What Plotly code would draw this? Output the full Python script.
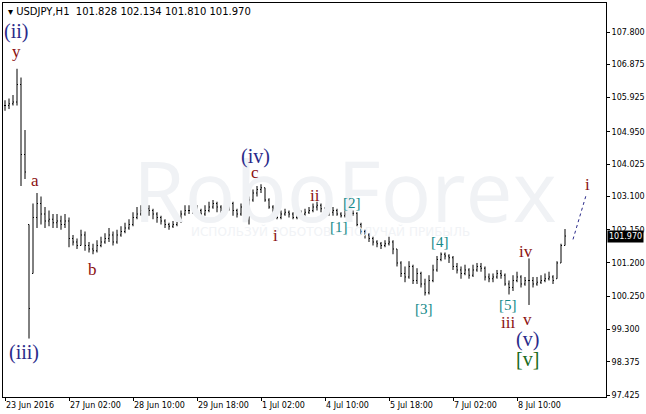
import plotly.graph_objects as go

tick_labels = ["23 Jun 2016", "27 Jun 02:00", "28 Jun 10:00", "29 Jun 18:00", "1 Jul 02:00",
               "4 Jul 10:00", "5 Jul 18:00", "7 Jul 02:00", "8 Jul 10:00"]
price_ticks = [107.800, 106.875, 105.925, 104.950, 104.025, 103.100, 102.150, 101.200,
               100.250, 99.300, 98.375, 97.425]

closes = [105.70,105.75,105.80,106.30,104.30,103.80,99.90,102.50,102.90,102.60,
          102.40,102.45,102.35,102.40,102.30,102.40,101.90,101.80,101.70,102.00,
          101.70,101.60,101.55,101.70,101.80,101.90,102.00,101.80,102.00,102.10,
          102.20,102.30,102.50,102.60,102.70,102.75,102.70,102.60,102.50,102.40,
          102.30,102.25,102.30,102.40,102.60,102.70,102.70,102.75,102.70,102.60,
          102.70,102.80,102.90,102.80,102.70,102.80,102.90,102.70,102.60,102.80,
          102.70,103.00,103.20,103.30,103.35,103.00,102.80,102.70,102.50,102.60,
          102.65,102.60,102.50,102.55,102.60,102.65,102.70,102.80,102.85,102.75,
          102.70,102.65,102.70,102.60,102.55,102.60,102.62,102.62,102.30,102.10,
          102.00,101.90,101.80,101.75,101.70,101.75,101.80,101.60,101.20,100.90,
          100.80,101.10,100.70,100.90,100.60,100.35,100.70,101.00,101.30,101.45,
          101.40,101.35,101.10,101.00,100.90,101.00,100.85,101.00,101.10,101.05,
          100.80,100.75,100.80,100.90,100.85,100.60,100.50,100.70,100.80,100.60,
          100.70,100.70,100.60,100.65,100.70,100.75,100.80,100.70,101.20,101.70,101.97]
highs = [105.85,105.90,106.00,106.75,106.50,105.00,102.30,102.90,103.20,103.10,
         102.80,102.70,102.60,102.60,102.55,102.60,102.50,102.00,101.90,102.15,
         102.10,101.80,101.75,101.85,101.95,102.05,102.20,102.10,102.15,102.25,
         102.35,102.45,102.65,102.80,102.85,102.85,102.85,102.75,102.65,102.55,
         102.45,102.35,102.40,102.50,102.70,102.85,102.85,102.85,102.85,102.75,
         102.85,102.95,103.00,102.95,102.85,102.95,103.00,102.95,102.75,102.90,
         102.85,103.10,103.30,103.40,103.45,103.35,103.05,102.85,102.75,102.70,
         102.75,102.70,102.65,102.65,102.70,102.75,102.80,102.90,102.95,102.90,
         102.80,102.75,102.80,102.75,102.65,102.70,102.70,102.70,102.65,102.35,
         102.15,102.05,101.95,101.85,101.80,101.85,101.95,101.85,101.60,101.25,
         101.10,101.25,101.15,101.05,100.95,100.75,100.85,101.15,101.40,101.50,
         101.50,101.45,101.40,101.20,101.10,101.15,101.05,101.15,101.20,101.20,
         101.10,100.90,100.90,101.00,101.00,100.90,100.70,100.85,100.95,100.85,
         100.80,101.33,100.80,100.80,100.85,100.90,100.95,100.85,101.25,101.75,102.17]
lows = [105.55,105.60,105.70,105.70,103.40,103.60,99.04,100.90,102.20,102.30,
        102.20,102.25,102.20,102.20,102.15,102.20,101.65,101.70,101.60,101.70,
        101.55,101.50,101.45,101.50,101.65,101.75,101.80,101.70,101.75,101.95,
        102.05,102.15,102.25,102.45,102.55,102.60,102.55,102.45,102.35,102.30,
        102.20,102.15,102.20,102.25,102.35,102.55,102.60,102.60,102.55,102.50,
        102.55,102.65,102.75,102.65,102.60,102.65,102.70,102.55,102.50,102.55,
        102.60,102.30,102.95,103.10,103.20,102.95,102.75,102.60,102.45,102.45,
        102.55,102.50,102.45,102.45,102.50,102.55,102.60,102.65,102.70,102.65,
        102.60,102.55,102.55,102.55,102.50,102.50,102.55,102.55,102.25,102.00,
        101.90,101.80,101.70,101.65,101.60,101.65,101.70,101.45,101.10,100.80,
        100.65,100.75,100.60,100.60,100.50,100.27,100.30,100.65,100.95,101.25,
        101.30,101.20,101.00,100.90,100.75,100.85,100.75,100.80,100.95,100.95,
        100.70,100.65,100.65,100.75,100.75,100.55,100.30,100.40,100.65,100.50,
        100.55,100.00,100.50,100.55,100.60,100.65,100.70,100.60,100.75,101.20,101.70]
opens = [closes[0]] + closes[:-1]
opens = [min(max(o, l), h) for o, l, h in zip(opens, lows, highs)]
xs = list(range(len(closes)))

Y_TOP, Y_BOT = 108.63, 97.37
PX_PER_UNIT = 35.08
def px(x, y):
    return (x - 5) / 4.0, Y_TOP - (y - 3) / PX_PER_UNIT

fig = go.Figure()
fig.add_trace(go.Ohlc(x=xs, open=opens, high=highs, low=lows, close=closes,
                      increasing=dict(line=dict(color="black", width=1)),
                      decreasing=dict(line=dict(color="black", width=1)),
                      tickwidth=0.25, hoverinfo="skip"))

# watermark
wx, wy = px(345, 190)
fig.add_annotation(x=wx, y=wy, text="RoboForex", showarrow=False,
                   font=dict(family="Open Sans", size=84, color="#f0f2f5"))
wx2, wy2 = px(330, 232)
fig.add_annotation(x=wx2, y=wy2, text="ИСПОЛЬЗУЙ РОБОТОВ – ПОЛУЧАЙ ПРИБЫЛЬ", showarrow=False,
                   font=dict(family="DejaVu Sans", size=12, color="#f1f3f6"))

BLUE, RED, TEAL, GREEN = "#2a2a8a", "#8b1010", "#168a8a", "#1b6b1b"
labels = [("(ii)", 16, 32, BLUE), ("y", 16, 52, RED), ("(iii)", 24, 353, BLUE),
          ("a", 35, 181, RED), ("b", 92, 270, RED), ("(iv)", 255, 157, BLUE),
          ("c", 255, 173, RED), ("i", 275, 236, RED), ("ii", 315, 196, RED),
          ("[1]", 339, 228, TEAL), ("[2]", 352, 204, TEAL), ("[3]", 424, 310, TEAL),
          ("[4]", 440, 243, TEAL), ("[5]", 508, 306, TEAL), ("iii", 508, 323, RED),
          ("iv", 526, 252, RED), ("v", 527, 320, RED), ("(v)", 527, 340, BLUE),
          ("[v]", 527, 360, GREEN), ("i", 587, 185, RED)]
for t, x, y, c in labels:
    ax, ay = px(x, y)
    big = t.startswith("(") or t == "[v]"
    fig.add_annotation(x=ax, y=ay, text=t, showarrow=False,
                       font=dict(family="Liberation Serif", size=20 if big else (15 if t.startswith("[") else 17), color=c))

x0, y0 = px(573, 240)
x1, y1 = px(586, 196)
fig.add_shape(type="line", x0=x0, y0=y0, x1=x1, y1=y1, line=dict(color="#2a2a8a", width=1, dash="dot"))

# current price label
fig.add_annotation(xref="paper", x=1.0, y=101.97, xanchor="left", text="101.970", showarrow=False,
                   bgcolor="black", font=dict(family="DejaVu Sans", size=8, color="white"),
                   borderpad=1, xshift=1)

fig.add_annotation(xref="paper", yref="paper", x=0.0, y=1.0, xanchor="left", yanchor="top",
                   text="▾ USDJPY,H1  101.828 102.134 101.810 101.970", showarrow=False,
                   font=dict(family="DejaVu Sans", size=10, color="black"), xshift=3, yshift=-1)

fig.update_layout(
    width=646, height=414, margin=dict(l=3, r=40, t=3, b=17, autoexpand=False),
    paper_bgcolor="white", plot_bgcolor="white", showlegend=False,
    xaxis=dict(range=[-0.5, 150.25], rangeslider=dict(visible=False), showgrid=False,
               zeroline=False, showline=True, linecolor="black", mirror=True,
               tickvals=[16 * i for i in range(len(tick_labels))], ticktext=tick_labels,
               ticks="outside", ticklen=3, tickcolor="black", ticklabelposition="outside right",
               tickangle=0, automargin=False,
               tickfont=dict(family="DejaVu Sans", size=8, color="black")),
    yaxis=dict(range=[Y_BOT, Y_TOP], side="right", showgrid=False, zeroline=False,
               showline=True, linecolor="black", mirror=True, automargin=False,
               tickvals=price_ticks, ticktext=[f"{v:.3f}" for v in price_ticks],
               ticks="outside", ticklen=3, tickcolor="black",
               tickfont=dict(family="DejaVu Sans", size=8, color="black")),
)
fig.write_html("out.html", config={"displayModeBar": False},
               post_script="document.body.style.margin='0';document.body.style.overflow='hidden';")
